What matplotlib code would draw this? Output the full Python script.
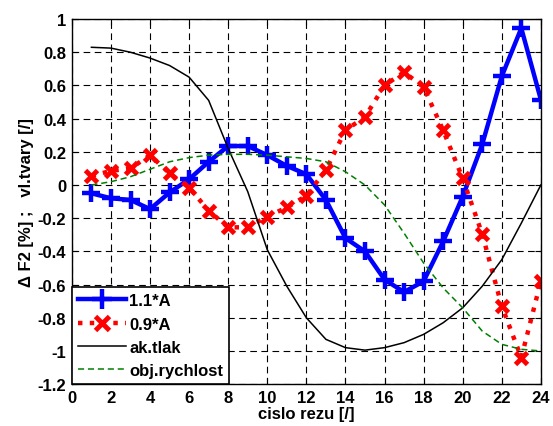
import matplotlib
matplotlib.use("Agg")
import matplotlib.pyplot as plt
from matplotlib.ticker import FuncFormatter

plt.rcParams['font.family'] = ['Liberation Sans', 'DejaVu Sans']
plt.rcParams['font.weight'] = 'bold'

rez = list(range(1, 25))
a11 = [-0.05, -0.08, -0.09, -0.145, -0.045, 0.035, 0.14, 0.235, 0.235, 0.18, 0.115, 0.065,
       -0.09, -0.32, -0.40, -0.57, -0.645, -0.58, -0.34, -0.07, 0.245, 0.655, 0.945, 0.515]
a09 = [0.055, 0.085, 0.10, 0.18, 0.07, -0.015, -0.155, -0.255, -0.255, -0.19, -0.135, -0.065,
       0.09, 0.33, 0.41, 0.60, 0.68, 0.59, 0.33, 0.04, -0.295, -0.73, -1.04, -0.58]
tlak = [0.83, 0.825, 0.80, 0.765, 0.72, 0.65, 0.51, 0.22, -0.04, -0.39, -0.61, -0.80,
        -0.93, -0.98, -0.995, -0.98, -0.95, -0.90, -0.83, -0.74, -0.61, -0.45, -0.23, 0.0]
rychlost = [0.0, 0.02, 0.05, 0.095, 0.14, 0.165, 0.18, 0.185, 0.185, 0.18, 0.17, 0.16,
            0.14, 0.08, 0.0, -0.12, -0.29, -0.47, -0.62, -0.74, -0.88, -0.96, -0.99, -1.0]

fig = plt.figure(figsize=(5.53, 4.27), dpi=100)
ax = fig.add_axes([0.130, 0.098, 0.848, 0.855])

ax.plot(rez, a11, color='blue', lw=3.2, marker='+', ms=13, mew=3.2, label='1.1*A')
ax.plot(rez, a09, color='red', lw=3.2, ls=':', marker='x', ms=9, mew=3.5, label='0.9*A')
ax.plot(rez, tlak, color='black', lw=1.1, label='ak.tlak')
ax.plot(rez, rychlost, color='green', lw=1.1, ls=(0, (4, 2.5)), label='obj.rychlost')

ax.set_xlim(0, 24)
ax.set_ylim(-1.2, 1)
ax.set_xticks(range(0, 25, 2))
ax.set_yticks([-1.2, -1, -0.8, -0.6, -0.4, -0.2, 0, 0.2, 0.4, 0.6, 0.8, 1])
ax.yaxis.set_major_formatter(FuncFormatter(lambda v, p: '%g' % round(v, 2)))
ax.grid(True, color='black', ls=(0, (6, 4)), lw=0.8)
ax.tick_params(direction='in', top=True, right=True, labelsize=12, length=4, pad=4)
for s in ax.spines.values():
    s.set_linewidth(1)

ax.set_xlabel('cislo rezu [/]', fontsize=12, fontweight='bold', labelpad=1)
ax.set_ylabel('\u0394 F2 [%] ;   vl.tvary [/]', fontsize=12, fontweight='bold', labelpad=3)

leg = ax.legend(loc='lower left', borderaxespad=0, fontsize=12, fancybox=False,
                framealpha=1, edgecolor='black', handlelength=2.9, handletextpad=0.2,
                labelspacing=0.5, borderpad=0.35, markerscale=1.1)
leg.get_frame().set_linewidth(1.2)

fig.savefig('out.png', dpi=100)
